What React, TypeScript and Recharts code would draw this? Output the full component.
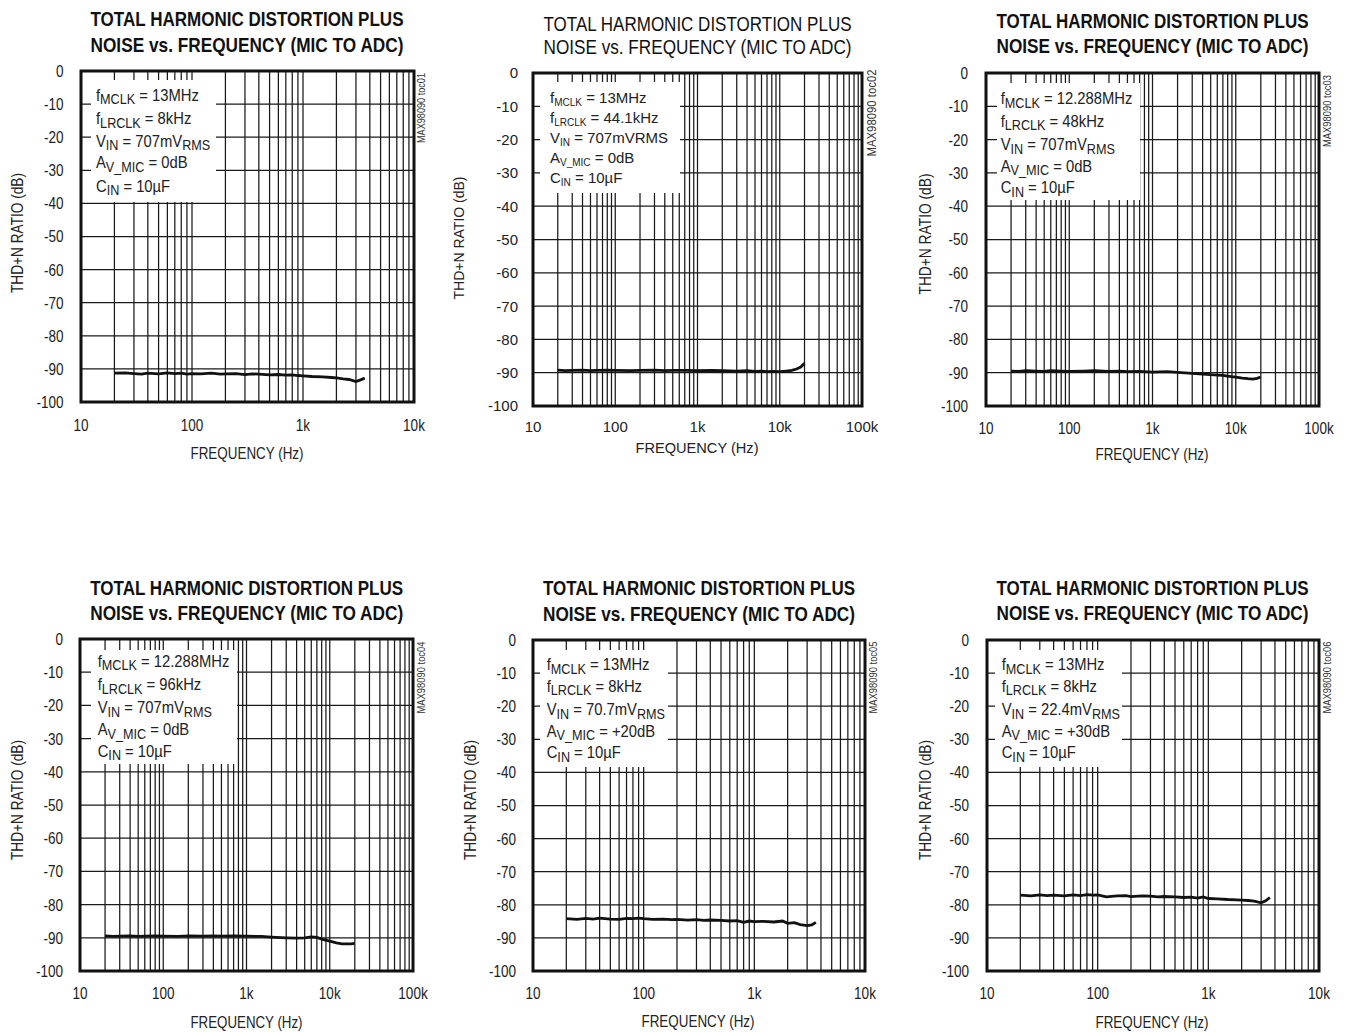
import React from "react";
import { LineChart, Line, XAxis, YAxis, CartesianGrid } from "recharts";

// measured frequencies (Hz)
const freqLow = [20, 25, 30, 35, 40, 50, 60, 70, 80, 90, 100, 120, 150, 180, 200, 250, 300, 350, 400, 500, 600, 700, 800, 900, 1000, 1200, 1500, 1800, 2000, 2300, 2600, 3000, 3300, 3600];
const freqFull = [20, 25, 30, 40, 50, 60, 80, 100, 150, 200, 300, 400, 500, 700, 1000, 1500, 2000, 3000, 4000, 5000, 6000, 7000, 8000, 10000, 12000, 14000, 16000, 18000, 20000];

// THD+N (dB)
const thd1 = [-91.3, -91.2, -91.4, -91.6, -91.3, -91.5, -91.2, -91.4, -91.3, -91.6, -91.4, -91.5, -91.3, -91.6, -91.5, -91.4, -91.7, -91.5, -91.6, -91.8, -91.7, -91.9, -91.8, -92.0, -92.1, -92.3, -92.4, -92.6, -92.7, -93.0, -93.2, -93.8, -93.3, -92.8];
const thd2 = [-89.2, -89.4, -89.3, -89.2, -89.4, -89.3, -89.2, -89.3, -89.4, -89.3, -89.2, -89.4, -89.3, -89.3, -89.4, -89.3, -89.4, -89.5, -89.4, -89.6, -89.5, -89.7, -89.6, -89.7, -89.5, -89.3, -88.9, -88.3, -87.2];
const thd3 = [-89.5, -89.6, -89.4, -89.5, -89.6, -89.4, -89.5, -89.6, -89.5, -89.4, -89.6, -89.5, -89.7, -89.6, -89.8, -89.7, -89.9, -90.2, -90.4, -90.6, -90.7, -90.8, -91.0, -91.3, -91.6, -91.8, -91.9, -91.7, -91.3];
const thd4 = [-89.4, -89.6, -89.5, -89.4, -89.6, -89.5, -89.4, -89.5, -89.6, -89.4, -89.5, -89.4, -89.5, -89.4, -89.5, -89.6, -89.8, -90.0, -90.1, -90.0, -89.7, -89.9, -90.4, -91.0, -91.5, -91.8, -91.8, -91.8, -91.7];
const thd5 = [-84.2, -84.4, -84.1, -84.3, -84.0, -84.3, -84.4, -84.1, -84.2, -84.0, -84.2, -84.4, -84.3, -84.5, -84.4, -84.6, -84.5, -84.7, -84.6, -84.7, -84.9, -84.8, -85.3, -84.9, -85.1, -85.0, -85.2, -84.9, -85.6, -85.4, -86.0, -86.3, -86.1, -85.3];
const thd6 = [-77.1, -77.3, -77.0, -77.2, -77.1, -77.3, -77.0, -77.2, -76.9, -77.1, -77.0, -77.6, -77.3, -77.2, -77.5, -77.3, -77.4, -77.6, -77.5, -77.6, -77.8, -77.7, -78.0, -77.6, -78.1, -78.2, -78.4, -78.5, -78.6, -78.7, -78.9, -79.4, -78.8, -77.8];

// axes
const yTicks = [0, -10, -20, -30, -40, -50, -60, -70, -80, -90, -100];
const decades3 = [10, 100, 1000, 10000];
const decades4 = [10, 100, 1000, 10000, 100000];
const minorSteps = [1, 2, 3, 4, 5, 6, 7, 8, 9];
const decadeLabels: Record<number, string> = { 10: "10", 100: "100", 1000: "1k", 10000: "10k", 100000: "100k" };

const title1 = "TOTAL HARMONIC DISTORTION PLUS";
const title2 = "NOISE vs. FREQUENCY (MIC TO ADC)";
const xTitle = "FREQUENCY (Hz)";
const yTitle = "THD+N RATIO (dB)";

// legend lines: even index = normal text, odd index = subscript
const legend1 = [["f", "MCLK", " = 13MHz"], ["f", "LRCLK", " = 8kHz"], ["V", "IN", " = 707mV", "RMS"], ["A", "V_MIC", " = 0dB"], ["C", "IN", " = 10µF"]];
const legend2 = [["f", "MCLK", " = 13MHz"], ["f", "LRCLK", " = 44.1kHz"], ["V", "IN", " = 707mVRMS"], ["A", "V_MIC", " = 0dB"], ["C", "IN", " = 10µF"]];
const legend3 = [["f", "MCLK", " = 12.288MHz"], ["f", "LRCLK", " = 48kHz"], ["V", "IN", " = 707mV", "RMS"], ["A", "V_MIC", " = 0dB"], ["C", "IN", " = 10µF"]];
const legend4 = [["f", "MCLK", " = 12.288MHz"], ["f", "LRCLK", " = 96kHz"], ["V", "IN", " = 707mV", "RMS"], ["A", "V_MIC", " = 0dB"], ["C", "IN", " = 10µF"]];
const legend5 = [["f", "MCLK", " = 13MHz"], ["f", "LRCLK", " = 8kHz"], ["V", "IN", " = 70.7mV", "RMS"], ["A", "V_MIC", " = +20dB"], ["C", "IN", " = 10µF"]];
const legend6 = [["f", "MCLK", " = 13MHz"], ["f", "LRCLK", " = 8kHz"], ["V", "IN", " = 22.4mV", "RMS"], ["A", "V_MIC", " = +30dB"], ["C", "IN", " = 10µF"]];

const FA = "'Liberation Sans', Arial, Helvetica, sans-serif";
const NARROW = 0.82;

function gridTicks(dec: number[]) {
  const out: number[] = [];
  dec.forEach((d, i) => {
    if (i === dec.length - 1) out.push(d);
    else minorSteps.forEach((m) => out.push(d * m));
  });
  return out;
}

const panels = [
  { freq: freqLow, vals: thd1, dec: decades3, legend: legend1, note: "MAX98090 toc01", alt: false,
    plot: { x: 81, y: 71, w: 333, h: 331 }, box: { x: 91, y: 80, w: 125, h: 122 }, lx: 96, lb: [100.7, 124, 146.7, 168.3, 191.7],
    title: { cx: 247, b1: 26, b2: 51.5, len: 313 }, xt: { cx: 247, b: 459.3, len: 113 }, yt: { cx: 17, cy: 233, len: 120 },
    nt: { cx: 421, cy: 108, len: 70 }, yGap: 17.5, xGap: 23 },
  { freq: freqFull, vals: thd2, dec: decades4, legend: legend2, note: "MAX98090 toc02", alt: true,
    plot: { x: 533, y: 73, w: 329, h: 333 }, box: { x: 540, y: 82, w: 140, h: 111 }, lx: 550, lb: [103.3, 123.3, 143.3, 163.3, 183.3],
    title: { cx: 697.5, b1: 30.5, b2: 54, len: 308 }, xt: { cx: 697, b: 453, len: 123 }, yt: { cx: 458, cy: 238, len: 123 },
    nt: { cx: 872, cy: 113, len: 87 }, yGap: 15, xGap: 20.7 },
  { freq: freqFull, vals: thd3, dec: decades4, legend: legend3, note: "MAX98090 toc03", alt: false,
    plot: { x: 986, y: 73, w: 333, h: 333 }, box: { x: 997, y: 83, w: 143, h: 117 }, lx: 1000.7, lb: [104, 126.7, 150, 171.7, 193.3],
    title: { cx: 1152.5, b1: 28.3, b2: 53.3, len: 312 }, xt: { cx: 1152, b: 460, len: 113 }, yt: { cx: 925, cy: 234, len: 121 },
    nt: { cx: 1327, cy: 111, len: 72 }, yGap: 18, xGap: 22 },
  { freq: freqFull, vals: thd4, dec: decades4, legend: legend4, note: "MAX98090 toc04", alt: false,
    plot: { x: 80, y: 639, w: 333, h: 332 }, box: { x: 91, y: 650, w: 146, h: 114 }, lx: 97.7, lb: [666.7, 690, 713.3, 735, 756.7],
    title: { cx: 246.7, b1: 595, b2: 620, len: 313 }, xt: { cx: 246.5, b: 1028.3, len: 112 }, yt: { cx: 17, cy: 800, len: 120 },
    nt: { cx: 421, cy: 677.5, len: 72 }, yGap: 17, xGap: 22.6 },
  { freq: freqLow, vals: thd5, dec: decades3, legend: legend5, note: "MAX98090 toc05", alt: false,
    plot: { x: 533, y: 640, w: 332, h: 331 }, box: { x: 540, y: 650, w: 128, h: 117 }, lx: 546.7, lb: [670, 691.7, 715, 736.7, 758.3],
    title: { cx: 699, b1: 595, b2: 620.7, len: 312 }, xt: { cx: 698, b: 1027.3, len: 113 }, yt: { cx: 470, cy: 800, len: 120 },
    nt: { cx: 873, cy: 677.5, len: 72 }, yGap: 17, xGap: 22.6 },
  { freq: freqLow, vals: thd6, dec: decades3, legend: legend6, note: "MAX98090 toc06", alt: false,
    plot: { x: 987, y: 640, w: 332, h: 331 }, box: { x: 995, y: 650, w: 127, h: 117 }, lx: 1001.7, lb: [670, 691.7, 715, 736.7, 758.3],
    title: { cx: 1152.5, b1: 595, b2: 620, len: 312 }, xt: { cx: 1152, b: 1028, len: 113 }, yt: { cx: 925, cy: 800, len: 120 },
    nt: { cx: 1327, cy: 677.5, len: 72 }, yGap: 18, xGap: 22.6 },
];

type PanelCfg = (typeof panels)[number];

const PAD_L = 70;
const PAD_T = 10;
const PAD_R = 32;
const PAD_B = 50;

function makeTick(p: PanelCfg, axis: "x" | "y") {
  const sx = p.alt ? 1 : NARROW;
  const fs = p.alt ? 15 : 16.5;
  return (props: any) => {
    const { x, y, payload } = props;
    const label = axis === "x" ? decadeLabels[payload.value] ?? "" : String(payload.value);
    if (!label) return <g />;
    return (
      <text
        transform={`translate(${x},${y}) scale(${sx},1)`}
        textAnchor={axis === "x" ? "middle" : "end"}
        dy={axis === "x" ? "0.71em" : "0.36em"}
        fontFamily={FA}
        fontSize={fs}
        fill="#222"
      >
        {label}
      </text>
    );
  };
}

function Chart({ p }: { p: PanelCfg }) {
  const data = p.freq.map((f, i) => ({ f, v: p.vals[i] }));
  const xMax = p.dec[p.dec.length - 1];
  const fs = p.alt ? 15 : 16.5;
  return (
    <div style={{ position: "absolute", left: p.plot.x - PAD_L, top: p.plot.y - PAD_T }}>
      <LineChart
        width={p.plot.w + PAD_L + PAD_R}
        height={p.plot.h + PAD_T + PAD_B}
        data={data}
        margin={{ top: PAD_T, right: PAD_R, bottom: 0, left: 0 }}
      >
        <CartesianGrid stroke="#1a1a1a" strokeWidth={1.25} />
        <XAxis
          dataKey="f"
          type="number"
          scale="log"
          domain={[10, xMax]}
          ticks={gridTicks(p.dec)}
          interval={0}
          allowDataOverflow
          tickLine={false}
          axisLine={false}
          tickSize={0}
          tickMargin={p.xGap - fs * 0.36}
          height={PAD_B}
          tick={makeTick(p, "x")}
        />
        <YAxis
          type="number"
          domain={[-100, 0]}
          ticks={yTicks}
          interval={0}
          width={PAD_L}
          tickLine={false}
          axisLine={false}
          tickSize={0}
          tickMargin={p.yGap}
          tick={makeTick(p, "y")}
        />
        <Line type="linear" dataKey="v" stroke="#111" strokeWidth={2.8} dot={false} isAnimationActive={false} />
      </LineChart>
    </div>
  );
}

function Decor({ p }: { p: PanelCfg }) {
  const legendSx = p.alt ? 1 : 0.87;
  const titleSx = p.alt ? 0.86 : 0.81;
  const main = p.alt ? 15 : 17;
  const sub = p.alt ? 10 : 14.5;
  const subDy = p.alt ? 3 : 3.5;
  const axisFs = p.alt ? 15.5 : 16.5;
  return (
    <g>
      <rect x={p.box.x} y={p.box.y} width={p.box.w} height={p.box.h} fill="#fff" />
      {p.legend.map((line, li) => (
        <text key={li} transform={`translate(${p.lx},${p.lb[li]}) scale(${legendSx},1)`} fontFamily={FA} fontSize={main} fill="#222">
          {line.map((seg, si) =>
            si % 2 === 1 ? (
              <tspan key={si} fontSize={sub} dy={subDy}>{seg}</tspan>
            ) : (
              <tspan key={si} fontSize={main} dy={si === 0 ? 0 : -subDy}>{seg}</tspan>
            )
          )}
        </text>
      ))}
      <rect x={p.plot.x} y={p.plot.y} width={p.plot.w} height={p.plot.h} fill="none" stroke="#111" strokeWidth={3} />
      {[title1, title2].map((t, i) => (
        <text
          key={t}
          transform={`translate(${p.title.cx},${i === 0 ? p.title.b1 : p.title.b2}) scale(${titleSx},1)`}
          textAnchor="middle"
          fontFamily={FA}
          fontWeight={p.alt ? "normal" : "bold"}
          fontSize={p.alt ? 20 : 21}
          fill="#111"
          textLength={p.title.len / titleSx}
          lengthAdjust="spacingAndGlyphs"
        >
          {t}
        </text>
      ))}
      <text x={p.xt.cx} y={p.xt.b} textAnchor="middle" fontFamily={FA} fontSize={axisFs} fill="#222"
        textLength={p.xt.len} lengthAdjust="spacingAndGlyphs">
        {xTitle}
      </text>
      <text transform={`translate(${p.yt.cx},${p.yt.cy}) rotate(-90)`} textAnchor="middle" dominantBaseline="central"
        fontFamily={FA} fontSize={axisFs} fill="#222" textLength={p.yt.len} lengthAdjust="spacingAndGlyphs">
        {yTitle}
      </text>
      <text transform={`translate(${p.nt.cx},${p.nt.cy}) rotate(-90)`} textAnchor="middle" dominantBaseline="central"
        fontFamily={FA} fontSize={p.alt ? 12 : 10} fill="#333" textLength={p.nt.len} lengthAdjust="spacingAndGlyphs">
        {p.note}
      </text>
    </g>
  );
}

export default function App() {
  return (
    <div style={{ position: "absolute", left: 0, top: 0, width: 1346, height: 1032, background: "#fff", overflow: "hidden" }}>
      {panels.map((p, i) => (
        <Chart key={i} p={p} />
      ))}
      <svg width={1346} height={1032} style={{ position: "absolute", left: 0, top: 0, pointerEvents: "none" }}>
        {panels.map((p, i) => (
          <Decor key={i} p={p} />
        ))}
      </svg>
    </div>
  );
}
